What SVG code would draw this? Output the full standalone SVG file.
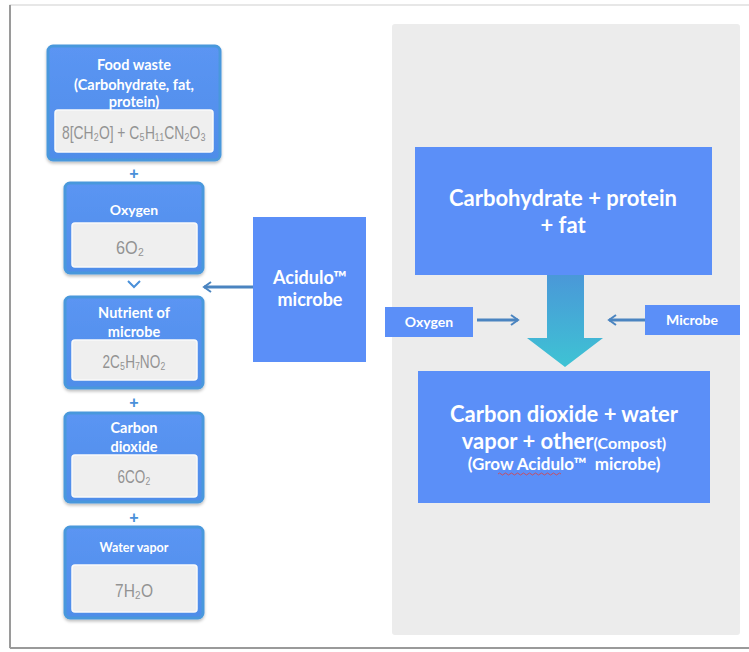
<svg xmlns="http://www.w3.org/2000/svg" width="749" height="652" viewBox="0 0 749 652">
<defs>
<linearGradient id="hdr" x1="0" y1="0" x2="0" y2="1">
<stop offset="0" stop-color="#5b95f3"/>
<stop offset="1" stop-color="#4f8de9"/>
</linearGradient>
<linearGradient id="bigArrow" x1="0" y1="0" x2="0" y2="1">
<stop offset="0" stop-color="#4a98d8"/>
<stop offset="1" stop-color="#3ec3d4"/>
</linearGradient>
<filter id="sh" x="-10%" y="-10%" width="120%" height="125%">
<feDropShadow dx="0" dy="2" stdDeviation="1.5" flood-color="#000" flood-opacity="0.25"/>
</filter>
<marker id="ah" markerWidth="10" markerHeight="12" refX="8" refY="6" orient="auto" markerUnits="userSpaceOnUse">
<path d="M1,1 L8,6 L1,11" fill="none" stroke="#4a84c0" stroke-width="2"/>
</marker>
</defs>
<style>
.card{fill:url(#hdr);stroke:#4a98dc;stroke-width:3;filter:url(#sh)}
.inner{fill:#efefef;stroke:#fafafa;stroke-width:1.5}
.lbl{font-family:Lato,"Open Sans","Liberation Sans",sans-serif;font-weight:bold;fill:#ffffff;text-anchor:middle}
.small{font-size:14.5px}
.big{font-size:22px}
.mid{font-size:18px}
.fx{font-family:"Liberation Sans",sans-serif;fill:#939393;font-size:19px;text-anchor:middle}
.blue{fill:#5b8ff8}
.plus{font-family:"Liberation Sans",sans-serif;font-weight:bold;fill:#4a90d9;font-size:16px;text-anchor:middle}
.conn{stroke:#4a84c0;stroke-width:3;fill:none}
</style>
<rect x="0" y="0" width="749" height="652" fill="#ffffff"/>
<g id="frame">
<rect x="10" y="5" width="760" height="643" fill="#ffffff" stroke="#cfcfcf" stroke-width="1"/>
<line x1="10" y1="5" x2="10" y2="648" stroke="#9a9a9a" stroke-width="2"/>
<line x1="10" y1="648" x2="749" y2="648" stroke="#9a9a9a" stroke-width="2"/>
</g>
<g id="panel">
<rect x="392" y="24" width="348" height="611" rx="3" fill="#ececec"/>
</g>

<g id="food-waste">
<rect class="card" x="48" y="46" width="172" height="114" rx="5"/>
<rect class="inner" x="55" y="110" width="158" height="42" rx="3"/>
<text class="lbl small" x="134" y="70">Food waste</text>
<text class="lbl small" x="134" y="90">(Carbohydrate, fat,</text>
<text class="lbl small" x="134" y="107">protein)</text>
<text class="fx" x="134" y="139" textLength="144" lengthAdjust="spacingAndGlyphs">8[CH₂O] + C₅H₁₁CN₂O₃</text>
</g>

<g id="oxygen-left">
<rect class="card" x="65" y="183" width="138" height="90" rx="5"/>
<rect class="inner" x="72" y="223" width="125" height="44" rx="3"/>
<text class="lbl" x="134" y="215" font-size="14">Oxygen</text>
<text class="fx" x="130" y="254" textLength="28" lengthAdjust="spacingAndGlyphs">6O₂</text>
</g>

<g id="nutrient">
<rect class="card" x="65" y="297" width="138" height="91" rx="5"/>
<rect class="inner" x="72" y="340" width="125" height="40" rx="3"/>
<text class="lbl small" x="134" y="318">Nutrient of</text>
<text class="lbl small" x="134" y="337">microbe</text>
<text class="fx" x="134" y="368" textLength="63" lengthAdjust="spacingAndGlyphs">2C₅H₇NO₂</text>
</g>

<g id="carbon-dioxide">
<rect class="card" x="65" y="413" width="138" height="89" rx="5"/>
<rect class="inner" x="72" y="455" width="125" height="42" rx="3"/>
<text class="lbl small" x="134" y="433">Carbon</text>
<text class="lbl small" x="134" y="452">dioxide</text>
<text class="fx" x="134" y="483" textLength="33" lengthAdjust="spacingAndGlyphs">6CO₂</text>
</g>

<g id="water-vapor">
<rect class="card" x="65" y="527" width="138" height="91" rx="5"/>
<rect class="inner" x="72" y="565" width="125" height="47" rx="3"/>
<text class="lbl" x="134" y="552" font-size="12.5">Water vapor</text>
<text class="fx" x="134" y="597" textLength="38" lengthAdjust="spacingAndGlyphs">7H₂O</text>
</g>

<g id="acidulo">
<rect class="blue" x="253" y="217" width="113" height="145"/>
<text class="lbl mid" x="310" y="284">Acidulo™</text>
<text class="lbl mid" x="310" y="306">microbe</text>
</g>

<g id="carbohydrate">
<rect class="blue" x="415" y="147" width="297" height="128"/>
<text class="lbl big" x="563" y="206">Carbohydrate + protein</text>
<text class="lbl big" x="563" y="233">+ fat</text>
</g>

<g id="oxygen-right">
<rect class="blue" x="385" y="307" width="88" height="30"/>
<text class="lbl" x="429" y="327" font-size="14">Oxygen</text>
</g>

<g id="microbe">
<rect class="blue" x="645" y="305" width="95" height="30"/>
<text class="lbl" x="692" y="325" font-size="14">Microbe</text>
</g>

<g id="result">
<rect class="blue" x="418" y="371" width="292" height="132"/>
<text class="lbl big" x="564" y="422">Carbon dioxide + water</text>
<text class="lbl" x="564" y="449"><tspan font-size="22">vapor + other</tspan><tspan font-size="16">(Compost)</tspan></text>
<text class="lbl" x="564" y="470" font-size="17">(Grow Acidulo™ &#160;microbe)</text>
<path d="M498,474 q1.5,-2 3,0 t3,0 t3,0 t3,0 t3,0 t3,0 t3,0 t3,0 t3,0 t3,0 t3,0 t3,0 t3,0 t3,0 t3,0 t3,0 t3,0 t3,0 t3,0 t3,0 t3,0" fill="none" stroke="#e04040" stroke-width="0.8"/>
</g>

<g id="connectors">
<text class="plus" x="134" y="179">+</text>
<path d="M128,281 L134,287 L140,281" fill="none" stroke="#4a90d9" stroke-width="2"/>
<text class="plus" x="134" y="408">+</text>
<text class="plus" x="134" y="523">+</text>
<line class="conn" x1="253" y1="287" x2="204" y2="287" marker-end="url(#ah)"/>
<line class="conn" x1="477" y1="320" x2="518" y2="320" marker-end="url(#ah)"/>
<line class="conn" x1="645" y1="320" x2="609" y2="320" marker-end="url(#ah)"/>
<path d="M547,275 L584,275 L584,338 L603,338 L565,367 L527,338 L547,338 Z" fill="url(#bigArrow)"/>
</g>
</svg>
